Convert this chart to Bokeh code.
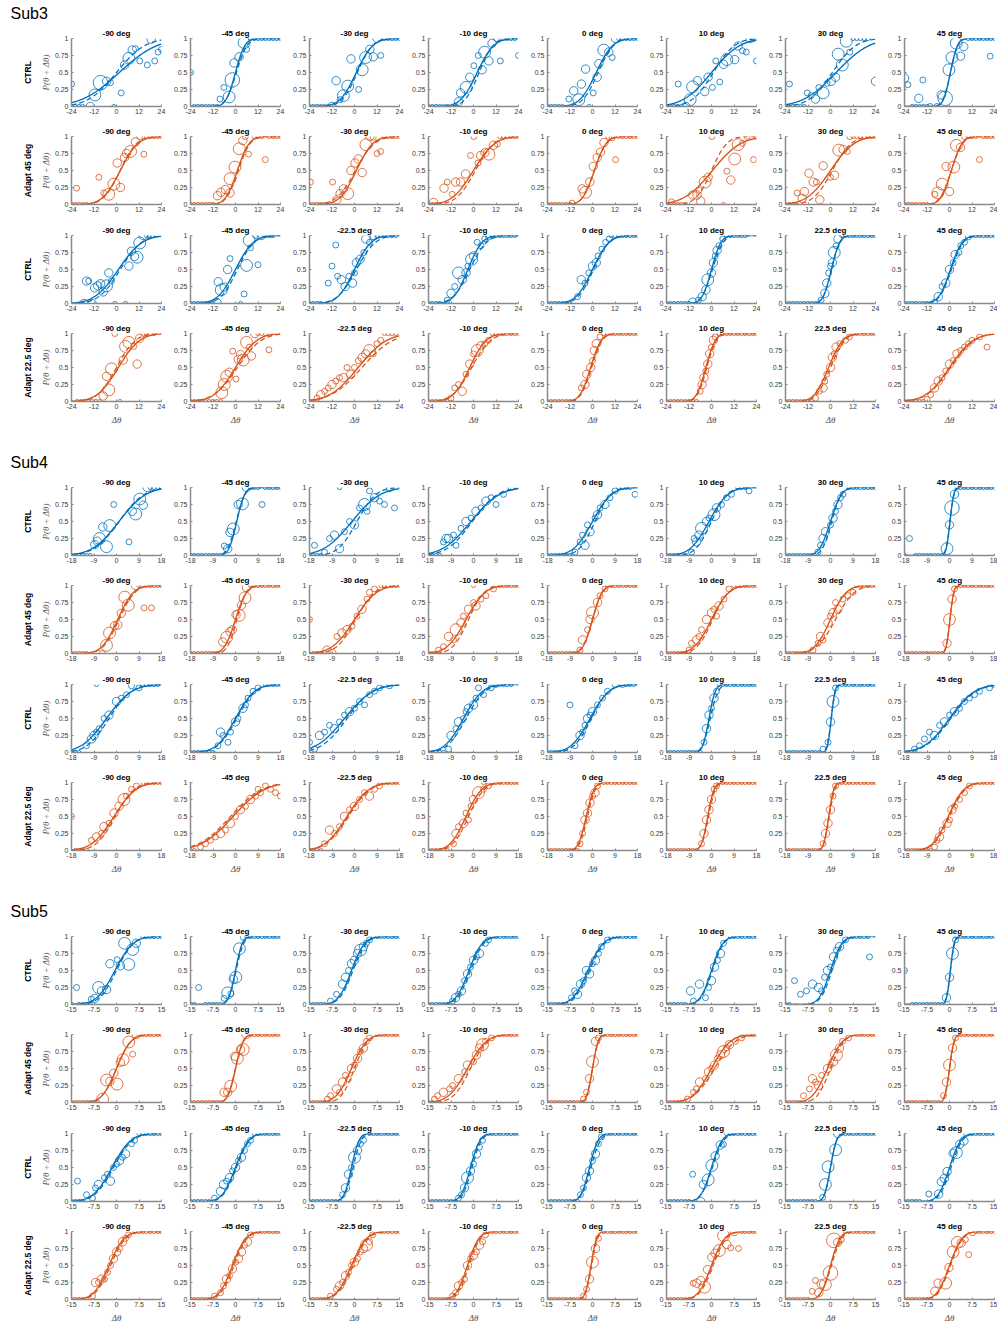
import math
from bokeh.plotting import figure
from bokeh.layouts import column, row
from bokeh.models import Range1d, FixedTicker, CustomJSTickFormatter, Title
from bokeh.embed import file_html
from bokeh.resources import INLINE

# ---------------- labels / axes ----------------
SUBJECTS = ["Sub3", "Sub4", "Sub5"]
ROW_LABELS = ["CTRL", "Adapt 45 deg", "CTRL", "Adapt 22.5 deg"]
TITLES_A = ["-90 deg", "-45 deg", "-30 deg", "-10 deg", "0 deg", "10 deg", "30 deg", "45 deg"]
TITLES_B = ["-90 deg", "-45 deg", "-22.5 deg", "-10 deg", "0 deg", "10 deg", "22.5 deg", "45 deg"]
XLIM = [24, 18, 15]
XTICKS = [[-24, -12, 0, 12, 24], [-18, -9, 0, 9, 18], [-15, -7.5, 0, 7.5, 15]]
YTICKS = [0, 0.25, 0.5, 0.75, 1]

# ---------------- data: points (x, p, n trials), single-trial runs at 0 / 1, fits (mu, sd, mu_dash, sd_dash) ----------------
# Sub3
PTS_3_1 = [
 [(-24,.33,2),(-14,0,4),(-11.5,.17,8),(-8.5,.35,12),(-5.3,.37,4),(-3.2,.35,2),(-1.4,0,1),(2.5,.2,2),(4.3,.61,4),(6.6,.71,8),(8.4,.83,4),(10.1,.85,2),(12.4,.67,2),(16.4,.61,2),(18.5,.99,4),(20.4,.67,2),(22.2,.8,2),(24,.84,2)],
 [(-24,.5,2),(-8.3,.11,2),(-6.2,.28,2),(-3.4,.14,8),(-1.7,.39,12),(-0.8,.64,4),(1.9,.73,4),(4.6,.94,8),(5.9,.84,2)],
 [(-12,0,4),(-9.8,.38,4),(-7.7,.1,2),(-5.9,.16,8),(-3.6,.3,8),(-1.9,.7,4),(2.2,.25,2),(4.1,.54,8),(5.9,.72,8),(8.2,.84,4),(10,.73,4),(12,1,4),(14,.75,2)],
 [(-9.5,0,2),(-8,.07,4),(-6.9,.2,4),(-3.9,.28,8),(-2,.43,4),(0.2,.6,2),(2.5,.75,2),(4.6,.54,4),(5.9,.8,8),(8.2,.67,4),(9.9,.93,4),(12.2,1,2),(14.3,.67,2),(24,.75,2)],
 [(-12.6,.11,2),(-10,.23,4),(-7.3,.1,8),(-5.9,.33,4),(-3.7,.55,4),(-1.8,0,1),(0.4,.2,2),(2.5,.43,4),(3.4,.63,4),(6,.83,8),(8.7,.8,4),(10.5,.72,2),(12.3,1,4)],
 [(-17.8,.33,2),(-13.7,0,4),(-11.4,.1,8),(-10.1,.29,8),(-7.5,.38,4),(-3.6,.22,4),(-1.8,.43,4),(0.5,.28,2),(2.3,.67,2),(4.4,.36,2),(6.4,.62,4),(8.2,.69,8),(12.4,.69,4),(14.2,.89,4),(16.5,.82,2),(18.5,.8,2),(20.6,1,4),(22.5,1,2),(24,.67,2)],
 [(-21.9,.33,2),(-12.4,.2,2),(-10.3,.16,2),(-8,.11,4),(-6.2,.28,2),(-3.9,.2,8),(-1.8,.34,2),(0.4,.37,4),(2.7,.43,4),(4.1,.77,8),(6.3,.61,8),(8.4,.96,8),(10.3,.8,2),(24,.37,4)],
 [(-24,.42,4),(-22.2,.32,2),(-16.4,.12,4),(-14.2,.39,2),(-10.3,0,2),(-6.7,0,2),(-4.4,.17,4),(-2.3,.12,12),(-0.3,.54,8),(1.3,.72,8),(3.6,.93,8),(5.9,.74,4),(7.6,.88,4),(21.7,.74,2)],
]
LO_3_1 = [[-22,-20,-18],[-22,-20,-18,-16,-14,-12,-10],[-24,-22,-20,-18,-16,-14],[-24,-22,-20,-18,-16,-14],[-24,-22,-20,-18,-16],[-24,-22,-20,-18,-16],[-24,-22,-20,-18,-16,-14],[-20,-18,-16,-14,-12]]
HI_3_1 = [[],[8,10,12,14,16,18,20,22,24],[16,18,20,22,24],[16,18,20,22],[14,16,18,20,22,24],[],[12,14,16,18,20],[10,12,14,16,18,20,22,24]]
FIT_3_1 = [(1.5,16,0,12),(0,4,0.5,4.5),(1,7,1.5,6.5),(2,7,3,6),(2,7,3,6.5),(0,12,1,9),(3,14,1,10),(0.5,3,0.5,3.2)]

PTS_3_2 = [
 [(-21.3,.24,2),(-9.4,.4,2),(-6.8,.17,2),(-4.1,.15,8),(-1.4,.3,8),(0.4,.61,4),(2.1,.25,4),(4.3,.69,4),(5.3,.75,4),(7.5,.78,8),(10.1,.92,4),(12.4,1,2),(14.6,.74,2)],
 [(-9.6,.13,4),(-7.8,.18,4),(-5.4,.22,4),(-2.9,.17,4),(-2.9,.38,8),(-0.3,.55,8),(2,.82,8),(3.9,.94,4),(5.2,1,2),(6.9,.74,2),(15.9,.66,2)],
 [(-23.5,.33,2),(-11.7,.33,2),(-9.4,.07,4),(-7.7,.16,4),(-5.9,.23,4),(-3.6,.16,8),(-1.9,.5,4),(0.3,.61,4),(2,.67,4),(4.1,.47,4),(6.1,.88,8),(8.2,1,4),(10,.99,2),(12,.75,2),(14,.78,2)],
 [(-21.3,.03,4),(-15.7,.24,4),(-14,.33,2),(-11.3,.15,2),(-9.5,.33,4),(-6.9,.33,4),(-4.2,.45,4),(-1.6,.72,2),(0.2,1,2),(2.4,.61,2),(3.8,.72,4),(6.1,.76,4),(8.2,.74,8),(10.6,.87,4),(12.7,.89,2)],
 [(-10.9,.02,2),(-5.5,.23,4),(-3.7,.18,8),(-1.4,.33,4),(0.4,.56,4),(2.5,.69,4),(4.3,.77,4),(6.1,.91,4),(8.7,1,2),(10.5,.98,2),(12.3,.66,2)],
 [(-21.3,.04,2),(-10,.14,4),(-7.7,.14,4),(-6.6,.21,2),(-5.7,.05,4),(-3.4,.33,8),(-1.8,.4,4),(0.2,1,2),(6.4,0,1),(8.2,.49,2),(10.3,.36,4),(12.4,.67,8),(14.2,.88,8),(16.5,.9,2),(19.1,1,2),(22.4,.66,2),(24,1,2)],
 [(-17.8,.17,2),(-15.1,.09,4),(-13.9,.19,4),(-11.5,.46,4),(-9.2,.33,4),(-7.5,.33,2),(-5.7,.07,4),(-3.9,.57,4),(0,.4,2),(2.1,.43,4),(4.4,.8,8),(6.7,.81,4),(8.9,.78,2),(10.3,1,2)],
 [(-7.8,.15,2),(-6.2,.17,8),(-3.9,.3,8),(-1.8,.56,4),(0,.19,4),(2.3,.55,8),(3.7,.87,8),(5.9,.84,4),(8,1,2),(16,.66,2)],
]
LO_3_2 = [[-24,-22,-20,-18,-16],[-24,-22,-20,-18,-16,-14,-12],[-24,-22,-20,-18,-16],[-24,-22,-20,-18],[-24,-22,-20,-18,-16,-14,-12],[-24,-22,-20,-18,-16,-14],[-24,-22,-20],[-24,-22,-20,-18,-16,-14,-12]]
HI_3_2 = [[16,18,20,22,24],[10,12,14,18,20,22,24],[16,18,20,22,24],[14,16,18,20,22,24],[14,16,18,20,22,24],[],[12,14,16,18,20,22,24],[10,12,14,18,20,22,24]]
FIT_3_2 = [(2,7.5,2,7),(1,5,1.5,5),(1,7,0.5,8),(0,9,1,8),(1,5,1,5),(0.5,12,0,6.5),(0,10,1,8),(1,4.5,1,4.8)]

PTS_3_3 = [
 [(-17.4,0,4),(-13,0,4),(-16,.33,4),(-14.8,.33,2),(-11.7,.23,4),(-10,.26,4),(-8.5,.29,4),(-7.1,.17,4),(-5.3,.26,8),(-4.1,.45,4),(-2.7,.33,2),(-0.9,0,1),(4.8,0,1),(6.6,.55,4),(8,.77,4),(9.6,.69,4),(11,.68,8),(12.4,.89,8),(14.2,1,4)],
 [(-9.8,.01,4),(-9.2,.32,4),(-7.6,.2,8),(-6,.24,4),(-4.2,.5,4),(-2.9,.66,2),(4.6,.14,2),(2.7,0,1),(5.9,.56,8),(7.3,.93,8),(8,.82,2),(10.8,1,2),(12,.57,2),(13.8,1,4)],
 [(-14,.3,2),(-12,.55,2),(-9,.4,2),(-7,.35,4),(-5,.25,4),(-3,.4,2),(-1,.3,4),(0,.45,2),(1,.6,4),(3,.65,4),(5,.75,2),(6,.95,4),(8,.9,2),(10,.98,2),(-10,.86,2)],
 [(-14,.05,2),(-12,.15,4),(-10,.25,2),(-8,.45,8),(-6,.35,4),(-4,.45,4),(-3,.55,2),(-1,.65,8),(0,.7,4),(2,.9,2),(4,.85,2),(6,.95,2),(8,.98,2)],
 [(-8,.1,2),(-6,.35,4),(-4,.3,2),(-2,.45,2),(0,.55,4),(2,.6,4),(3,.7,2),(5,.8,2),(7,.9,2),(9,.95,2)],
 [(-10,.02,4),(-7,.05,2),(-5,.1,4),(-3,.2,4),(-2,.35,8),(0,.45,4),(1,.6,4),(2,.7,2),(3,.78,4),(4,.85,2),(6,.95,2)],
 [(-5,.05,2),(-3,.15,4),(-2,.3,4),(-1,.45,2),(0,.55,2),(1,.6,4),(2,.75,8),(3,.85,2),(4,.95,4)],
 [(-8,.02,2),(-6,.1,4),(-4,.25,2),(-2,.3,4),(0,.5,4),(2,.6,2),(3,.72,4),(5,.75,2),(6,.85,2),(8,.9,2),(10,.98,2)],
]
LO_3_3 = [[],[-24,-22,-20,-18,-16,-14,-12],[-24,-22,-20,-18],[-24,-22,-20,-18],[-24,-22,-20,-18,-16,-14,-12],[-24,-22,-20,-18,-16,-14,-12],[-24,-22,-20,-18,-16,-14,-12,-10,-8],[-24,-22,-20,-18,-16,-14,-12,-10]]
HI_3_3 = [[16,17.5,19],[15.5,17,18.5,20],[12,14,16,18,20,22],[10,12,14,16,18,20,22],[10,12,14,16,18,20,22,24],[8,10,12,14,16,18],[6,8,10,12,14,16,18,20,22,24],[12,14,16,18,20,22,24]]
FIT_3_3 = [(1,10,2,9),(0,7.5,1,7),(0,7,1,8),(-3,6,-2,7),(0,7,0.5,6.5),(0,4,0.5,4.5),(0.5,3.5,0.5,3.5),(0.5,5,1,5)]

PTS_3_4 = [
 [(-0.9,1,2),(1.8,0,1),(-7.1,.08,4),(-4.1,.17,8),(-5.3,.37,4),(-2.7,.48,8),(3.6,.61,4),(4.8,.81,8),(6.6,.87,8),(9.2,.81,2),(11,.55,4),(12.4,.93,4),(14.6,1,2)],
 [(-7.3,.13,8),(-6,.25,8),(-4.7,.37,8),(-3.3,.43,4),(-1.5,.74,2),(0.3,.33,2),(1.5,.62,4),(2.7,.69,4),(4.1,.61,8),(5.9,.87,8),(7.3,.8,2),(8.5,.67,4),(10.3,1,4),(17.8,.76,2)],
 [(-20,.05,2),(-18,.1,4),(-16,.15,2),(-14,.2,2),(-12,.25,4),(-10,.3,2),(-8,.35,2),(-6,.35,4),(-4,.5,2),(-2,.4,4),(0,.5,2),(2,.6,2),(4,.65,4),(6,.7,4),(8,.75,8),(10,.7,2),(12,.85,2),(14,.9,2)],
 [(-12,.05,2),(-10,.2,2),(-8,.25,2),(-6,.15,4),(-4,.4,2),(-2,.55,4),(0,.7,2),(2,.75,8),(4,.82,4),(6,.85,2),(8,.9,2)],
 [(-6,.2,2),(-4,.25,4),(-3,.4,4),(-1,.5,4),(0,.6,2),(1,.75,4),(2,.85,4),(4,.95,2)],
 [(-6,.15,2),(-5,.25,4),(-4,.35,4),(-3,.45,2),(-2,.55,4),(-1,.7,4),(0,.8,2),(1,.9,4),(2,.95,2)],
 [(-8,.05,2),(-6,.15,2),(-4,.2,4),(-3,.3,2),(-2,.4,2),(0,.5,4),(1,.65,4),(2,.7,2),(3,.8,4),(5,.85,2),(8,.9,2),(10,.95,2)],
 [(-12,.03,2),(-10,.1,2),(-8,.2,4),(-6,.3,4),(-4,.35,2),(-2,.45,2),(0,.55,4),(2,.6,2),(4,.7,4),(6,.75,2),(8,.8,2),(10,.85,2),(12,.9,2),(16,.95,2),(20,.8,2)],
]
LO_3_4 = [[-21,-19,-17,-15,-13,-11,-9],[-24,-22,-20,-18,-16,-14,-12,-10,-8],[-24,-22],[-24,-22,-20,-18,-16,-14],[-24,-22,-20,-18,-16,-14,-12,-10],[-24,-22,-20,-18,-16,-14,-12,-10,-8],[-24,-22,-20,-18,-16,-14,-12,-10],[-24,-22,-20,-18,-16,-14]]
HI_3_4 = [[16,18,20],[12,14,16],[16,18,20,22],[10,12,14,16,18,20,22,24],[6,8,10,12,14,16,18,20,22,24],[4,6,8,10,12,14,16,18,20,22,24],[12,14,16,18,20,22,24],[]]
FIT_3_4 = [(1,9,0,8),(0,9,1,10),(2,12,4,13),(-2,7,-1,8),(-1,4.5,-0.5,4.5),(-3,4,-2.5,4),(-1,6,0,6),(0,10,0.5,10)]

# Sub4
PTS_4_1 = [
 [(-8.7,.16,4),(-7.7,.21,4),(-6.8,.25,8),(-5.5,.42,4),(-4,.13,8),(-2.7,.44,8),(-1.1,.75,2),(5,.2,2),(6.3,.65,4),(7.7,.61,8),(9.3,.83,8),(10.7,.74,4),(12.3,1,4)],
 [(-4.5,.14,2),(-3.1,.1,4),(-2.2,.34,4),(-0.9,.39,8),(1.1,.75,4),(2.8,.76,8),(4.4,1,4),(10.6,.75,2)],
 [(-16,.15,2),(-12,.05,2),(-10,.25,2),(-8,.3,4),(-6,.1,4),(-6,1,1),(-4,.35,2),(-2,.5,2),(0,.45,4),(2,.7,2),(4,.75,8),(5,.65,2),(6,.95,2),(8,.85,4),(10,.8,2),(12,.75,2),(14,.98,2),(16,.7,2)],
 [(-12,.2,2),(-11,.25,4),(-10,.25,4),(-8,.3,2),(-7,.15,2),(-5,.4,2),(-3,.5,4),(-1,.55,2),(1,.65,4),(3,.7,2),(5,.8,4),(7,.85,2),(9,.75,2),(12,.9,2),(15,1,2)],
 [(-7,.05,2),(-5,.2,2),(-4,.3,2),(-3,.15,4),(-2,.45,2),(-1,.35,4),(1,.55,2),(2,.6,4),(3,.7,2),(5,.75,4),(7,.85,2),(9,.95,2),(17,.9,2)],
 [(-8,.05,2),(-7,.25,2),(-6,.2,4),(-5,.3,4),(-4,.4,8),(-2,.5,4),(-1,.55,2),(1,.6,8),(2,.7,4),(4,.75,2),(6,.85,2),(8,.9,2),(15,.95,2)],
 [(-5,.05,2),(-4,.15,2),(-3,.25,4),(-2,.35,4),(0,.45,2),(1,.55,4),(2,.65,2),(3,.75,4),(4,.85,2),(5,.9,2)],
 [(-16,.25,2),(-1,.1,8),(0,.45,4),(1,.7,12),(2,.9,4)],
]
LO_4_1 = [[-18,-16.5,-15,-13.5,-12,-10.5],[-18,-16.5,-15,-13.5,-12,-10.5,-9,-7.5,-6],[-18,-16.5,-15,-13.5],[-18,-16.5,-15,-13.5],[-18,-16.5,-15,-13.5,-12,-10.5,-9],[-18,-16.5,-15,-13.5,-12,-10.5],[-18,-16.5,-15,-13.5,-12,-10.5,-9,-7.5],[-18,-13.5,-12,-10.5,-9,-7.5,-6,-4.5,-3]]
HI_4_1 = [[13.5,15,16.5,18],[6,7.5,9,12,13.5,15,16.5,18],[],[],[10.5,12,13.5,15],[10.5,12,13.5],[7.5,9,10.5,12,13.5,15,16.5,18],[3,4.5,6,7.5,9,10.5,12,13.5,15,16.5,18]]
FIT_4_1 = [(1,8.5,1,8),(0.5,2.5,0.3,2.8),(-1,9,1,6),(-1,9,-0.5,8),(0,6,1,5),(-1,6,0,5),(0,3.5,0.5,3),(0.2,1.2,0.2,1.3)]

PTS_4_2 = [
 [(-5.7,0,2),(-4,.12,8),(-2.8,.3,8),(-0.7,.41,4),(0.5,.42,4),(1.9,.59,4),(3.3,.83,8),(4.7,.71,8),(7.6,1,4),(11,.67,2),(14,.67,2)],
 [(-5.1,.17,4),(-3.5,.24,8),(-2.2,.32,4),(-1.3,.35,4),(0.2,.57,4),(1.5,.56,8),(2.4,.71,4),(3.8,.82,8),(4.4,.97,4)],
 [(-18,.5,2),(-11,.05,4),(-9,0,4),(-7,.25,2),(-5,.3,4),(-3,.35,4),(-1,.4,2),(1,.55,2),(3,.65,4),(5,.8,2),(6,.9,2),(8,.95,2)],
 [(-14,.05,2),(-12,.1,2),(-10,.25,4),(-8,.2,2),(-7,.35,8),(-5,.45,4),(-4,.55,2),(-2,.65,4),(0,.75,2),(1,.7,4),(3,.8,2),(5,.85,2),(8,.95,2),(0,1,1)],
 [(-5,.05,2),(-4,.2,4),(-2,.35,2),(-1,.5,4),(0,.6,8),(2,.75,4),(3,.85,2),(5,.95,2)],
 [(-9,.05,2),(-8,.15,2),(-6,.2,4),(-5,.25,2),(-4,.35,2),(-2,.5,4),(0,.6,4),(1,.65,2),(2,.55,2),(3,.7,4),(5,.8,2),(7,.95,2)],
 [(-7,.05,2),(-5,.15,2),(-4,.25,4),(-3,.2,2),(-1,.45,4),(0,.55,2),(1,.6,4),(2,.75,2),(3,.65,4),(5,.8,2),(7,.85,2),(9,.9,2)],
 [(-1,.15,4),(0,.5,8),(1,.8,4),(2,.95,2)],
]
LO_4_2 = [[-18,-16.5,-15,-13.5,-12],[-18,-16.5,-15,-13.5,-12,-10.5,-9,-7.5,-6],[-16.5,-15,-13.5],[-18,-16.5,-15],[-18,-16.5,-15,-13.5,-12,-10.5,-9,-7.5,-6],[-18,-16.5,-15,-13.5,-12,-10.5],[-18,-16.5,-15,-13.5,-12,-10.5,-9],[-18,-16.5,-15,-13.5,-12,-10.5,-9,-7.5,-6,-4.5,-3]]
HI_4_2 = [[9,12,13.5,15,16.5,18],[6,7.5,9,10.5,12,13.5,15,16.5,18],[10.5,12,13.5,15,16.5,18],[10.5,12,13.5,15,16.5,18],[6,7.5,9,10.5,12,13.5,15,16.5,18],[9,10.5,12,13.5,15,16.5,18],[10.5,12,13.5,15,16.5,18],[3,4.5,6,7.5,9,10.5,12,13.5,15,16.5,18]]
FIT_4_2 = [(0.5,5,1,5),(0,3.5,0.5,3),(0,7,0.5,6),(-3,6,-2,5),(0,3,0,3.2),(0,5.5,0.5,5),(0,5,2,6),(0.2,1.2,0.2,1.3)]

PTS_4_3 = [
 [(-12,.1,2),(-10,.2,4),(-9,.25,4),(-8,.3,2),(-7,.35,2),(-5,.5,2),(-3,.55,4),(0,.75,4),(2,.8,2),(4,.85,2),(6,.98,2),(9,.95,2),(-8,1,1)],
 [(-7,.1,2),(-6,.3,4),(-5,.25,2),(-3,.15,2),(-2,.3,2),(0,.45,4),(1,.5,2),(3,.65,4),(4,.7,2),(5,.8,2),(7,.9,2),(9,.95,2)],
 [(-18,.15,2),(-16,.05,2),(-14,.25,4),(-12,.3,2),(-10,.4,2),(-8,.35,4),(-6,.45,2),(-4,.55,2),(-2,.6,4),(0,.65,2),(2,.75,2),(4,.7,2),(6,.85,2),(8,.9,2),(10,.95,2),(14,.98,2)],
 [(-10,.05,2),(-9,.25,4),(-7,.35,2),(-6,.45,4),(-4,.5,2),(-3,.6,2),(-2,.65,4),(0,.7,4),(1,.8,2),(2,.95,2),(4,.85,2),(7,.95,2),(9,1,2)],
 [(-9,.7,2),(-7,.1,2),(-5,.25,4),(-4,.3,2),(-3,.4,2),(-2,.5,4),(-1,.55,2),(0,.6,4),(2,.7,2),(4,.8,2),(6,.9,2),(9,1,2),(12,1,2)],
 [(-3,.15,2),(-2,.35,4),(-1,.55,4),(0,.65,2),(1,.8,4),(2,.9,2)],
 [(-3,.05,2),(-1,.15,2),(0,.45,4),(1,.75,8),(2,.95,2)],
 [(-14,.05,2),(-12,.1,2),(-10,.2,2),(-8,.3,2),(-6,.25,4),(-4,.4,2),(-2,.45,4),(0,.55,2),(2,.6,4),(4,.65,2),(6,.75,2),(8,.8,2),(10,.85,2),(12,.9,2),(16,.95,2),(18,1,2)],
]
LO_4_3 = [[-18,-16.5,-15],[-18,-16.5,-15,-13.5,-12,-10.5,-9],[],[-18,-16.5,-15,-13.5,-12],[-18,-16.5,-15,-13.5,-12,-10.5],[-18,-16.5,-15,-13.5,-12,-10.5,-9,-7.5,-6,-4.5],[-18,-16.5,-15,-13.5,-12,-10.5,-9,-7.5,-6,-4.5],[-18,-16.5]]
HI_4_3 = [[10.5,12,13.5,15,16.5],[12,13.5,15,16.5,18],[],[10.5,12,13.5,15],[13.5,15,16.5],[3,4.5,6,7.5,9,10.5,12,13.5,15,16.5,18],[3,4.5,6,7.5,9,10.5,12,13.5,15,16.5,18],[]]
FIT_4_3 = [(-4,8,-3,7),(0,6,0.5,6),(-4,9,-3,8),(-4,6,-3,6),(-1,6,-0.5,5.5),(-1,2,-0.5,2.5),(0.3,1.2,0.3,1.3),(0,8,0.5,8)]

PTS_4_4 = [
 [(-18,.5,2),(-10,.15,2),(-8,.2,4),(-6,.25,2),(-5,.35,4),(-3,.4,2),(-1,.55,4),(1,.65,4),(3,.75,8),(4,.8,2),(6,.9,2),(8,.95,2),(11,1,2)],
 [(-14,.05,2),(-12,.1,2),(-10,.15,2),(-8,.2,2),(-6,.25,4),(-4,.3,2),(-2,.4,4),(0,.5,2),(2,.6,4),(4,.65,2),(6,.75,4),(8,.8,2),(9,.9,2),(10,.85,2),(12,.95,2),(14,.9,2),(16,.85,2),(18,.8,2)],
 [(-12,.1,2),(-10,.3,4),(-8,.25,2),(-6,.35,2),(-4,.5,4),(-2,.6,2),(0,.65,4),(2,.75,2),(4,.85,2),(6,.8,4),(8,.9,2),(10,.95,2)],
 [(-8,.1,2),(-7,.25,4),(-6,.35,2),(-4,.4,4),(-3,.55,2),(-2,.45,2),(-1,.65,2),(0,.75,4),(2,.85,8),(4,.9,2),(6,.95,2),(4,1,1)],
 [(-5,.1,2),(-4,.25,2),(-3,.45,4),(-2,.55,4),(-1,.7,4),(0,.8,2),(1,.85,4),(2,.95,2)],
 [(-4,.1,2),(-3,.25,4),(-2,.45,4),(-1,.6,4),(0,.75,4),(1,.9,2),(2,.95,2)],
 [(-3,.1,2),(-2,.25,4),(-1,.4,4),(0,.6,4),(1,.8,2),(2,.95,2)],
 [(-6,.05,2),(-5,.15,2),(-4,.2,4),(-3,.3,2),(-1,.4,4),(0,.45,2),(1,.6,4),(2,.65,2),(4,.75,2),(6,.85,2),(8,.95,2)],
]
LO_4_4 = [[-16.5,-15,-13.5,-12],[-18,-16.5],[-18,-16.5,-15,-13.5],[-18,-16.5,-15,-13.5,-12,-10.5],[-18,-16.5,-15,-13.5,-12,-10.5,-9,-7.5,-6],[-18,-16.5,-15,-13.5,-12,-10.5,-9,-7.5,-6],[-18,-16.5,-15,-13.5,-12,-10.5,-9,-7.5,-6,-4.5],[-18,-16.5,-15,-13.5,-12,-10.5,-9,-7.5]]
HI_4_4 = [[12,13.5,15,16.5,18],[],[12,13.5,15,16.5,18],[9,10.5,12,13.5,15,16.5,18],[4.5,6,7.5,9,10.5,12,13.5,15,16.5,18],[3,4.5,6,7.5,9,10.5,12,13.5,15,16.5,18],[3,4.5,6,7.5,9,10.5,12,13.5,15,16.5,18],[10.5,12,13.5,15,16.5,18]]
FIT_4_4 = [(-1,7,-0.5,6),(-1,10,-2,10),(-3,7,-2.5,7),(-3,5,-2,5),(-2.5,2.5,-2,2.5),(-1.5,2,-1.2,2.2),(-0.7,1.6,-0.5,1.8),(-0.5,5,0,5)]

# Sub5
PTS_5_1 = [
 [(-13.3,.25,2),(-8.4,.08,2),(-7.2,.09,4),(-6,.25,8),(-5,.2,4),(-3.3,.22,4),(-2.2,.6,4),(0.2,.66,2),(1.3,.57,4),(2.7,.9,8),(4.1,.59,8),(5.4,.81,8),(6.6,.9,4)],
 [(-12.3,.25,2),(-3.8,.09,2),(-2.6,.17,8),(-1.5,.16,2),(-0.7,.37,4),(0.1,.4,8),(1.3,.82,8),(2.6,.99,2)],
 [(-8,.05,2),(-6,.15,2),(-4,.3,4),(-3,.4,4),(-2,.5,2),(-1,.6,4),(0,.65,4),(1,.75,4),(2,.8,8),(3,.85,4),(4,.9,2),(5,.95,2)],
 [(-7,.05,2),(-6,.1,4),(-5,.15,2),(-4,.2,4),(-3,.35,2),(-2,.45,4),(-1,.55,2),(0,.65,4),(1,.7,2),(2,.75,4),(4,.9,2),(5,.95,2)],
 [(-7,.1,2),(-6,.2,2),(-5,.15,4),(-4,.3,4),(-3,.35,2),(-2,.5,4),(-1,.45,4),(0,.6,2),(1,.65,4),(2,.75,2),(3,.85,2),(5,.95,2)],
 [(-7,.2,4),(-6,.05,2),(-4,.3,4),(-2,.1,2),(-1,.25,2),(0,.35,4),(1,.55,4),(2,.65,2),(3,.75,4),(4,.9,2)],
 [(-12,.35,2),(-10,.15,2),(-8,.2,2),(-6,.3,4),(-4,.25,4),(-3,.2,2),(-2,.4,2),(-1,.5,4),(0,.55,2),(1,.7,4),(2,.8,2),(3,.85,4),(5,.95,2),(13,.7,2)],
 [(-15,.5,2),(-1,.1,4),(0,.4,4),(1,.75,8),(2,.95,2)],
]
LO_5_1 = [[-15,-12.5,-11.25,-10,-8.75],[-15,-13.75,-10,-8.75,-7.5,-6.25,-5],[-15,-13.75,-12.5,-11.25,-10],[-15,-13.75,-12.5,-11.25,-10,-8.75],[-15,-13.75,-12.5,-11.25,-10,-8.75],[-15,-13.75,-12.5,-11.25,-10,-8.75],[-15,-13.75],[-12.5,-11.25,-10,-8.75,-7.5,-6.25,-5,-3.75,-2.5]]
HI_5_1 = [[8.75,10,11.25,12.5,13.75,15],[3.75,5,6.25,7.5,8.75,10,11.25,12.5,13.75,15],[6.25,7.5,8.75,10,11.25,12.5,13.75,15],[6.25,7.5,8.75,10,11.25,12.5,13.75,15],[6.25,7.5,8.75,10,11.25,12.5,13.75,15],[6.25,7.5,8.75,10,11.25,12.5,13.75,15],[6.25,7.5,8.75,10,11.25,12.5],[2.5,3.75,5,6.25,7.5,8.75,10,11.25,12.5,13.75,15]]
FIT_5_1 = [(-0.5,4.8,0,4.5),(0,1.8,0.2,2),(-1,3.5,-0.5,3.5),(-1.5,3.5,-1,3.5),(-1.5,4,-1,4),(0,3,0.3,3),(0,3,0.5,3),(0.3,1,0.3,1.1)]

PTS_5_2 = [
 [(-4.6,.05,8),(-3.3,.33,8),(-2.2,.31,4),(-0.9,.43,4),(0.2,.27,8),(1.3,.59,4),(2.2,.63,8),(4.1,.89,8),(5.4,.71,2),(6.6,1,4)],
 [(-3.8,.15,4),(-2.6,.15,4),(-1.6,.24,8),(-0.2,.68,4),(0.6,.65,8),(1.7,.78,4),(2.6,.78,8),(3.5,1,4)],
 [(-9,.05,2),(-8,.1,2),(-6,.2,4),(-5,.15,2),(-4,.3,4),(-3,.4,2),(-2,.35,2),(-1,.5,4),(0,.55,2),(1,.65,4),(2,.75,2),(3,.8,4),(4,.9,2),(5,.95,2)],
 [(-13,.05,2),(-12,.1,2),(-10,.15,4),(-8,.2,2),(-7,.25,2),(-5,.35,4),(-3,.45,2),(-2,.55,4),(0,.6,2),(1,.7,4),(2,.8,4),(3,.85,8),(4,.9,2),(6,.95,2)],
 [(-3,.05,2),(-2,.15,2),(-1,.35,4),(0,.6,8),(1,.9,4),(2,.95,2)],
 [(-8,.05,2),(-6,.15,2),(-5,.2,2),(-4,.3,4),(-2,.35,2),(-1,.45,4),(0,.5,2),(1,.55,4),(2,.65,2),(3,.7,4),(4,.75,8),(5,.8,2),(6,.85,4),(8,.9,2),(10,.95,2)],
 [(-9,.1,2),(-7,.2,2),(-6,.35,4),(-5,.3,2),(-4,.25,4),(-3,.4,2),(-1,.5,4),(0,.55,2),(1,.6,4),(2,.7,8),(3,.8,4),(4,.9,2),(6,.95,2)],
 [(-2,.1,2),(-1,.3,4),(0,.55,8),(1,.8,4),(2,.95,2)],
]
LO_5_2 = [[-15,-13.75,-12.5,-11.25,-10,-8.75,-7.5,-6.25],[-15,-13.75,-12.5,-11.25,-10,-8.75,-7.5,-6.25,-5],[-15,-13.75,-12.5,-11.25,-10],[-15,-13.75],[-15,-13.75,-12.5,-11.25,-10,-8.75,-7.5,-6.25,-5,-3.75],[-15,-13.75,-12.5,-11.25,-10],[-15,-13.75,-12.5,-11.25,-10],[-15,-13.75,-12.5,-11.25,-10,-8.75,-7.5,-6.25,-5,-3.75]]
HI_5_2 = [[7.5,8.75,10,11.25,12.5,13.75,15],[5,6.25,7.5,8.75,10,11.25,12.5,13.75,15],[7.5,8.75,10,11.25,12.5,13.75,15],[8.75,10,11.25,12.5,13.75,15],[3.75,5,6.25,7.5,8.75,10,11.25,12.5,13.75,15],[11.25,12.5,13.75,15],[8.75,10,11.25,12.5,13.75,15],[3.75,5,6.25,7.5,8.75,10,11.25,12.5,13.75,15]]
FIT_5_2 = [(0,3.8,0,3.8),(0,2,0,2.1),(-1,4,0,3.5),(-2,5,-1,4.5),(0,1.5,0,1.6),(0,5,1,5.5),(-1,4,0,3.5),(0,1.2,0,1.3)]

PTS_5_3 = [
 [(-13,.3,2),(-10,.1,2),(-8,.05,2),(-7,.2,2),(-6,.25,4),(-4,.35,2),(-3,.4,2),(-2,.3,4),(-1,.5,2),(0,.55,2),(1,.6,4),(2,.65,2),(3,.7,4),(5,.85,2),(6,.9,2)],
 [(-7,.05,2),(-5,.15,4),(-4,.25,4),(-3,.3,2),(-2,.35,4),(-1,.45,2),(0,.5,4),(1,.6,2),(2,.65,4),(3,.75,2),(4,.85,2),(5,.9,2)],
 [(-4,.1,2),(-3,.2,4),(-2,.4,4),(-1,.5,2),(0,.65,8),(1,.75,4),(2,.85,2),(3,.9,2)],
 [(-5,.05,2),(-4,.1,2),(-3,.2,4),(-2,.35,8),(-1,.45,4),(0,.55,2),(1,.7,4),(2,.8,2),(3,.9,2)],
 [(-4,.1,2),(-3,.2,2),(-2,.35,4),(-1,.45,4),(0,.6,2),(1,.7,4),(2,.85,2),(3,.95,2)],
 [(-6.3,.4,2),(-3.6,0,4),(-2.7,.25,4),(-1.1,.32,8),(0.1,.53,8),(1.2,.67,4),(2.9,.83,4),(4,.84,2)],
 [(-2.6,.06,2),(-1.7,.25,8),(-0.8,.51,8),(1.7,.76,8),(2.4,1,4)],
 [(-6.9,.11,2),(-3.6,.11,4),(-2.7,.29,4),(-1.7,.34,4),(-0.8,.44,4),(1.2,.71,4),(2.3,.72,8),(3.4,.84,4),(4.8,.89,4),(5.7,1,2)],
]
LO_5_3 = [[-15,-13.75,-12.5,-11.25],[-15,-13.75,-12.5,-11.25,-10,-8.75],[-15,-13.75,-12.5,-11.25,-10,-8.75,-7.5,-6.25,-5],[-15,-13.75,-12.5,-11.25,-10,-8.75,-7.5,-6.25],[-15,-13.75,-12.5,-11.25,-10,-8.75,-7.5,-6.25,-5],[-15,-13.75,-12.5,-11.25,-10,-8.75,-7.5],[-15,-13.75,-12.5,-11.25,-10,-8.75,-7.5,-6.25,-5],[-15,-13.75,-12.5,-11.25,-10]]
HI_5_3 = [[7.5,8.75,10,11.25,12.5,13.75,15],[6.25,7.5,8.75,10,11.25,12.5,13.75,15],[5,6.25,7.5,8.75,10,11.25,12.5,13.75,15],[5,6.25,7.5,8.75,10,11.25,12.5,13.75,15],[5,6.25,7.5,8.75,10,11.25,12.5,13.75,15],[5,6.25,7.5,8.75,10,11.25,12.5,13.75,15],[3.75,5,6.25,7.5,8.75,10,11.25,12.5,13.75,15],[7.5,8.75,10,11.25,12.5,13.75,15]]
FIT_5_3 = [(-1.5,5,-1,5),(0,3.5,0.3,3.5),(-1,2,-0.5,2.2),(-1,2.5,-0.5,2.5),(-1,2.3,-0.5,2.5),(0,2.8,0.3,3),(0,1.6,0,1.6),(0,3,0.5,3)]

PTS_5_4 = [
 [(-8,.05,2),(-7,.25,4),(-6,.25,2),(-5,.3,4),(-4,.3,2),(-3,.4,2),(-2,.5,2),(-1,.6,4),(0,.7,4),(1,.75,2),(2,.85,4),(3,.9,2),(4,.95,2)],
 [(-7,.05,2),(-5,.1,2),(-4,.2,2),(-3,.3,4),(-2,.35,2),(-1,.45,4),(0,.55,2),(1,.6,4),(2,.7,4),(3,.8,2),(4,.85,4),(5,.95,2)],
 [(-8,.05,2),(-6,.15,2),(-5,.2,4),(-4,.25,2),(-3,.35,4),(-2,.4,2),(-1,.5,2),(0,.55,4),(1,.6,2),(2,.7,2),(3,.75,4),(4,.8,8),(5,.85,2),(6,.95,2)],
 [(-7,.05,2),(-6,.1,2),(-5,.2,4),(-4,.25,2),(-3,.3,2),(-2,.5,4),(-1,.6,2),(0,.65,4),(1,.7,2),(2,.8,4),(3,.85,2),(4,.95,2)],
 [(-3,.05,2),(-2,.15,2),(-1,.3,4),(0,.55,8),(1,.75,4),(2,.9,2)],
 [(-6.1,.24,2),(-4.9,.24,4),(-3.6,.28,4),(-2.3,.18,8),(-1.3,.44,4),(0.1,.62,4),(1.2,.68,4),(2.6,.72,8),(4,.94,8),(5.1,.81,4),(6.4,.76,2),(7.6,1,4),(9,.75,2)],
 [(-6.1,.12,2),(-5,.28,2),(-3.9,.1,4),(-3.1,.23,4),(-1.7,.22,8),(0,.39,12),(1.1,.87,12),(2.4,.84,4),(3.6,.88,2)],
 [(-4.9,.12,4),(-3.8,.24,4),(-1.3,.24,8),(-0.2,.47,4),(1.2,.7,8),(2.6,.84,8),(3.9,.83,4),(5.3,.88,2),(6.4,.66,2),(7.6,1,4)],
]
LO_5_4 = [[-15,-13.75,-12.5,-11.25,-10],[-15,-13.75,-12.5,-11.25,-10,-8.75],[-15,-13.75,-12.5,-11.25,-10],[-15,-13.75,-12.5,-11.25,-10,-8.75],[-15,-13.75,-12.5,-11.25,-10,-8.75,-7.5,-6.25,-5,-3.75],[-15,-13.75,-12.5,-11.25,-10,-8.75,-7.5],[-15,-13.75,-12.5,-11.25,-10,-8.75,-7.5],[-15,-13.75,-12.5,-11.25,-10,-8.75,-7.5,-6.25]]
HI_5_4 = [[6.25,7.5,8.75,10,11.25,12.5,13.75,15],[6.25,7.5,8.75,10,11.25,12.5,13.75,15],[8.75,10,11.25,12.5,13.75,15],[5,6.25,7.5,8.75,10,11.25,12.5,13.75,15],[3.75,5,6.25,7.5,8.75,10,11.25,12.5,13.75,15],[10,11.25,12.5,13.75,15],[5,6.25,7.5,8.75,10,11.25,12.5,13.75,15],[8.75,10,11.25,12.5,13.75,15]]
FIT_5_4 = [(-2.5,4,-2,4),(-1,3.5,-0.5,3.5),(-1,4,-0.5,4),(-2,3,-1.5,3),(-0.5,1.5,-0.3,1.6),(0,3.5,0.5,3.5),(0,2.5,0.3,2.7),(0,3.3,0.3,3.3)]

DATA = [
    [(PTS_3_1, LO_3_1, HI_3_1, FIT_3_1), (PTS_3_2, LO_3_2, HI_3_2, FIT_3_2), (PTS_3_3, LO_3_3, HI_3_3, FIT_3_3), (PTS_3_4, LO_3_4, HI_3_4, FIT_3_4)],
    [(PTS_4_1, LO_4_1, HI_4_1, FIT_4_1), (PTS_4_2, LO_4_2, HI_4_2, FIT_4_2), (PTS_4_3, LO_4_3, HI_4_3, FIT_4_3), (PTS_4_4, LO_4_4, HI_4_4, FIT_4_4)],
    [(PTS_5_1, LO_5_1, HI_5_1, FIT_5_1), (PTS_5_2, LO_5_2, HI_5_2, FIT_5_2), (PTS_5_3, LO_5_3, HI_5_3, FIT_5_3), (PTS_5_4, LO_5_4, HI_5_4, FIT_5_4)],
]

# ---------------- style ----------------
BLUE = "#0072BD"
ORANGE = "#D95319"
FONT = "Liberation Sans"
SERIF = "Liberation Serif"
AXIS_GRAY = "#8a8a8a"
TICK_TEXT = "#3a3a3a"
PAGE_W = 997
# (top border, bottom border) per subject / row, in px
ROW_BORDERS = [
    [(16, 16), (14, 16), (15, 16), (14, 48)],
    [(16, 16), (14, 16), (15, 16), (14, 48)],
    [(16, 16), (14, 16), (15, 16), (14, 29)],
]


def cdf(x, mu, sd):
    return 0.5 * (1.0 + math.erf((x - mu) / (sd * math.sqrt(2.0))))


def header(si):
    # a 22 px strip whose title carries the subject name
    h = figure(frame_width=PAGE_W - 10, frame_height=1,
               x_range=Range1d(0, 1), y_range=Range1d(0, 1),
               output_backend="svg", toolbar_location=None,
               x_axis_location=None, y_axis_location=None,
               min_border_left=10, min_border_right=0,
               min_border_top=21, min_border_bottom=0)
    h.grid.visible = False
    h.outline_line_color = None
    h.title.text = SUBJECTS[si]
    h.title.align = "left"
    h.title.text_font = FONT
    h.title.text_font_size = "16px"
    h.title.text_font_style = "normal"
    h.title.text_color = "black"
    h.title.standoff = 0
    h.title.offset = 0
    return h


def panel(si, ri, ci):
    xm = XLIM[si]
    pts, lo, hi, fit = DATA[si][ri]
    top_b, bot_b = ROW_BORDERS[si][ri]
    col = BLUE if ri % 2 == 0 else ORANGE
    titles = TITLES_A if ri < 2 else TITLES_B
    p = figure(frame_width=90, frame_height=68,
               x_range=Range1d(-xm, xm), y_range=Range1d(0, 1),
               output_backend="svg", toolbar_location=None,
               min_border_left=71 if ci == 0 else 22,
               min_border_right=3 if ci == 7 else 7,
               min_border_top=top_b, min_border_bottom=bot_b)
    p.title.text = titles[ci]
    p.title.align = "center"
    p.title.text_font = FONT
    p.title.text_font_size = "8px"
    p.title.text_font_style = "bold"
    p.title.text_color = "black"
    p.title.standoff = 2
    p.outline_line_color = None
    p.xgrid.visible = False
    p.ygrid.visible = False

    p.xaxis.ticker = FixedTicker(ticks=XTICKS[si])
    p.yaxis.ticker = FixedTicker(ticks=YTICKS)
    p.xaxis.formatter = CustomJSTickFormatter(code="return tick.toString();")
    p.yaxis.formatter = CustomJSTickFormatter(code="return tick.toString();")
    for ax in (p.xaxis[0], p.yaxis[0]):
        ax.axis_line_color = AXIS_GRAY
        ax.axis_line_width = 1.5
        ax.major_tick_line_color = AXIS_GRAY
        ax.major_tick_in = 2
        ax.major_tick_out = 0
        ax.minor_tick_line_color = None
        ax.major_label_text_font = FONT
        ax.major_label_text_font_size = "7px"
        ax.major_label_text_color = TICK_TEXT
    p.xaxis.major_label_standoff = 2
    p.yaxis.major_label_standoff = 3

    if ci == 0:
        p.yaxis.axis_label = "P(θ + Δθ)"
        p.yaxis.axis_label_text_font = SERIF
        p.yaxis.axis_label_text_font_style = "italic"
        p.yaxis.axis_label_text_font_size = "9px"
        p.yaxis.axis_label_text_color = "#555555"
        p.yaxis.axis_label_standoff = 1
        p.add_layout(Title(text=ROW_LABELS[ri], align="center", text_font=FONT,
                           text_font_size="8.5px", text_font_style="bold",
                           text_color="black", standoff=10), "left")
    if ri == 3:
        p.xaxis.axis_label = "Δθ"
        p.xaxis.axis_label_text_font = SERIF
        p.xaxis.axis_label_text_font_style = "italic"
        p.xaxis.axis_label_text_font_size = "9px"
        p.xaxis.axis_label_text_color = "#555555"
        p.xaxis.axis_label_standoff = 3

    n = 241
    xs = [-xm + 2.0 * xm * i / (n - 1) for i in range(n)]
    mu, sd, mu2, sd2 = fit[ci]
    p.line(xs, [cdf(x, mu2, sd2) for x in xs], line_color=col, line_width=1.3, line_dash="5 3")
    p.line(xs, [cdf(x, mu, sd) for x in xs], line_color=col, line_width=1.4)

    px = [q[0] for q in pts[ci]] + list(lo[ci]) + list(hi[ci])
    py = [q[1] for q in pts[ci]] + [0] * len(lo[ci]) + [1] * len(hi[ci])
    pn = [q[2] for q in pts[ci]] + [1] * (len(lo[ci]) + len(hi[ci]))
    ps = [4.2 * math.sqrt(v) for v in pn]
    p.scatter(px, py, size=ps, marker="circle", fill_color=None, line_color=col, line_width=0.8)
    return p


rows = []
for si in range(3):
    rows.append(header(si))
    for ri in range(4):
        rows.append(row([panel(si, ri, ci) for ci in range(8)], spacing=0))
layout = column(rows, spacing=0)

open("out.html", "w").write(file_html(layout, INLINE, title="Psychometric functions"))
